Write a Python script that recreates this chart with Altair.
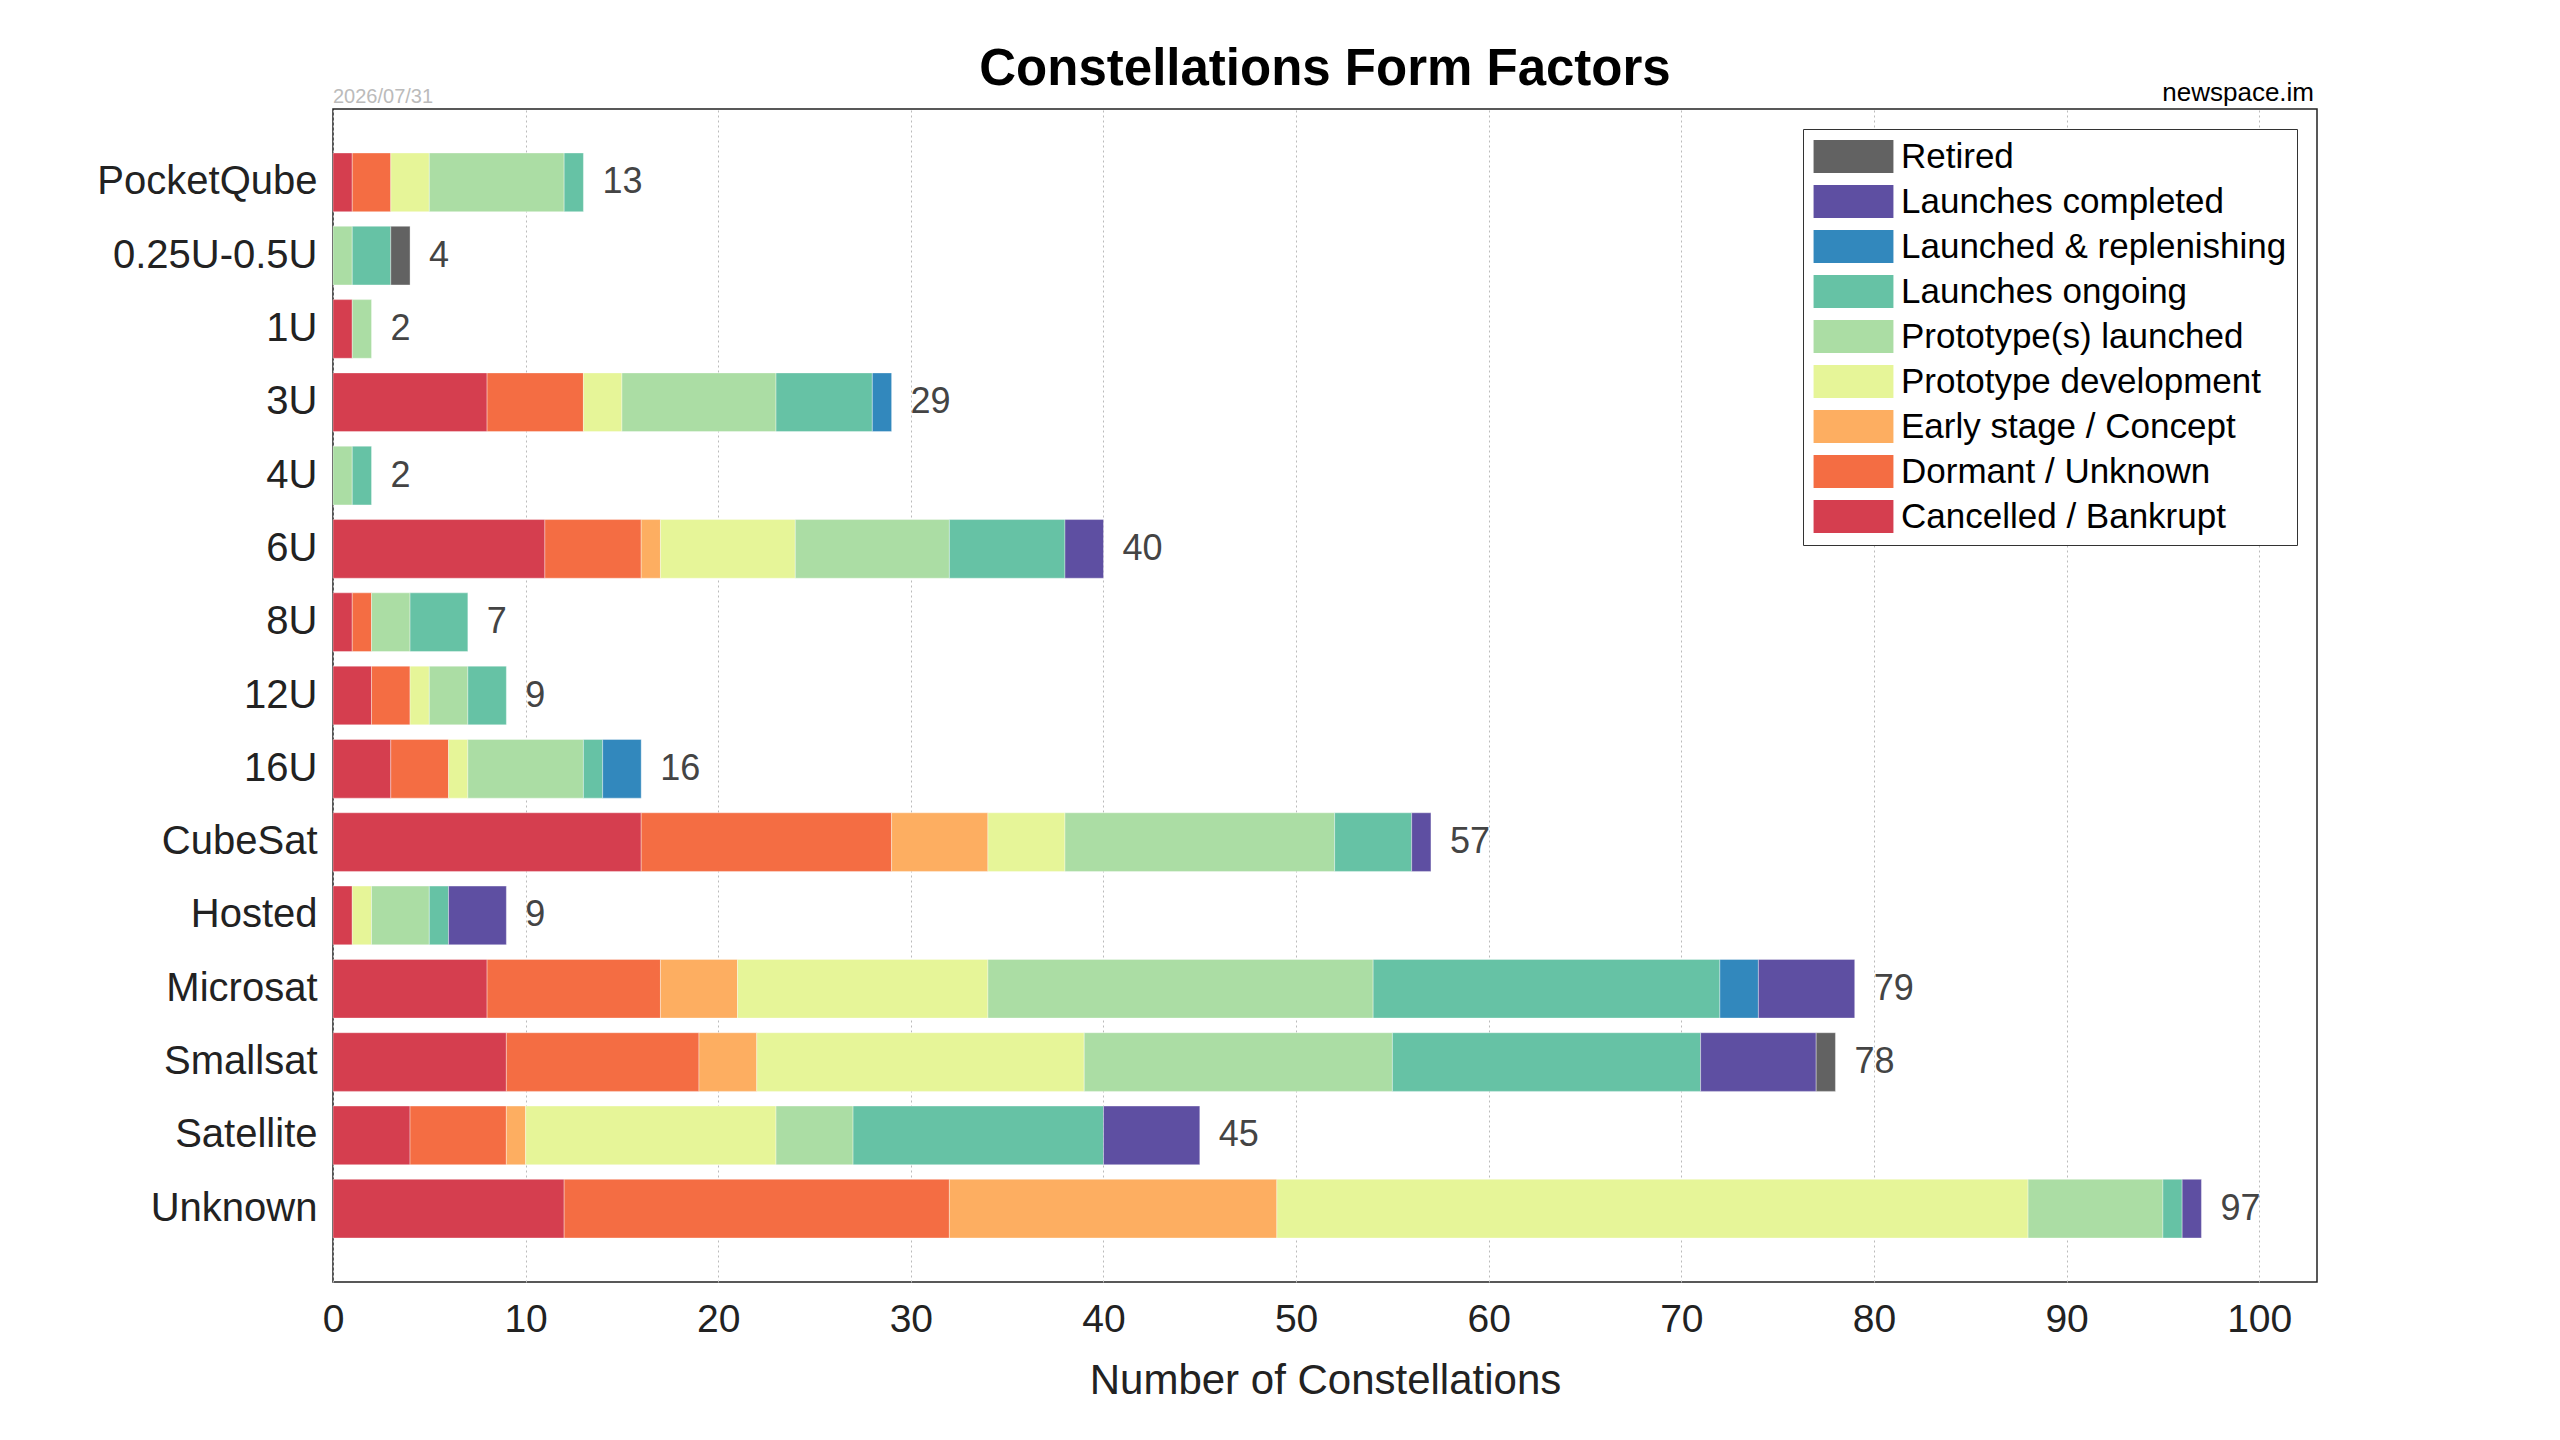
import altair as alt
import pandas as pd

categories = ["PocketQube", "0.25U-0.5U", "1U", "3U", "4U", "6U", "8U", "12U", "16U",
              "CubeSat", "Hosted", "Microsat", "Smallsat", "Satellite", "Unknown"]

statuses = ["Cancelled / Bankrupt", "Dormant / Unknown", "Early stage / Concept",
            "Prototype development", "Prototype(s) launched", "Launches ongoing",
            "Launched & replenishing", "Launches completed", "Retired"]
colors = ["#d53e4f", "#f46d43", "#fdae61", "#e6f598", "#abdda4", "#66c2a5",
          "#3288bd", "#5e4fa2", "#626262"]

cancelled     = [1, 0, 1, 8, 0, 11, 1, 2, 3, 16, 1, 8, 9, 4, 12]
dormant       = [2, 0, 0, 5, 0, 5, 1, 2, 3, 13, 0, 9, 10, 5, 20]
early         = [0, 0, 0, 0, 0, 1, 0, 0, 0, 5, 0, 4, 3, 1, 17]
proto_dev     = [2, 0, 0, 2, 0, 7, 0, 1, 1, 4, 1, 13, 17, 13, 39]
proto_launch  = [7, 1, 1, 8, 1, 8, 2, 2, 6, 14, 3, 20, 16, 4, 7]
ongoing       = [1, 2, 0, 5, 1, 6, 3, 2, 1, 4, 1, 18, 16, 13, 1]
replenishing  = [0, 0, 0, 1, 0, 0, 0, 0, 2, 0, 0, 2, 0, 0, 0]
completed     = [0, 0, 0, 0, 0, 2, 0, 0, 0, 1, 3, 5, 6, 5, 1]
retired       = [0, 1, 0, 0, 0, 0, 0, 0, 0, 0, 0, 0, 1, 0, 0]

series = [cancelled, dormant, early, proto_dev, proto_launch, ongoing,
          replenishing, completed, retired]

rows = []
for si, (st, vals) in enumerate(zip(statuses, series)):
    for c, v in zip(categories, vals):
        if v > 0:
            rows.append({"cat": c, "status": st, "value": v, "idx": si})
df = pd.DataFrame(rows)

totals = pd.DataFrame({"cat": categories,
                       "total": [sum(s[i] for s in series) for i in range(len(categories))]})

W, H = 1984, 1173
FONT = "Liberation Sans"

y_enc = alt.Y("cat:N", sort=categories,
              scale=alt.Scale(paddingInner=0.2, paddingOuter=0.6),
              axis=alt.Axis(title=None, ticks=False, domain=False, labelFontSize=40,
                            labelColor="#222", labelPadding=16, grid=False, labelFont=FONT,
                            labelLimit=600))

bars = alt.Chart(df).mark_bar(stroke="white", strokeWidth=1, strokeOpacity=0.35).encode(
    x=alt.X("value:Q", stack="zero",
            scale=alt.Scale(domain=[0, 103], nice=False),
            axis=alt.Axis(title="Number of Constellations", values=list(range(0, 101, 10)),
                          ticks=False, domain=False, labelFlush=False,
                          labelFontSize=39, labelColor="#222", labelPadding=18,
                          titleFontSize=42, titleFontWeight="normal", titleColor="#222",
                          titlePadding=21, labelFont=FONT, titleFont=FONT,
                          grid=True, gridDash=[2, 3], gridColor="#bbbbbb", gridWidth=1)),
    y=y_enc,
    color=alt.Color("status:N",
                    scale=alt.Scale(domain=statuses[::-1], range=colors[::-1]),
                    legend=alt.Legend(title=None, orient="top-right", offset=20,
                                      symbolType="M-2.42,-1H2.42V1H-2.42Z",
                                      symbolSize=1089, symbolStrokeWidth=0,
                                      symbolOffset=23, labelOffset=30,
                                      labelFontSize=35, labelColor="black", labelFont=FONT,
                                      rowPadding=9, padding=10,
                                      strokeColor="#333", fillColor="white",
                                      labelLimit=600)),
    order=alt.Order("idx:Q", sort="ascending"),
)

labels = alt.Chart(totals).mark_text(align="left", baseline="middle", dx=19,
                                     fontSize=36, color="#444", font=FONT).encode(
    x=alt.X("total:Q"),
    y=alt.Y("cat:N", sort=categories),
    text="total:Q",
)

title = alt.Chart(pd.DataFrame({"t": ["Constellations Form Factors"]})).mark_text(
    align="center", baseline="alphabetic", fontSize=51, fontWeight="bold",
    color="black", font=FONT).encode(text="t:N", x=alt.value(W / 2), y=alt.value(-24))

date = alt.Chart(pd.DataFrame({"t": ["2026/07/31"]})).mark_text(
    align="left", baseline="alphabetic", fontSize=20, color="#bbbbbb",
    font=FONT).encode(text="t:N", x=alt.value(0), y=alt.value(-6))

site = alt.Chart(pd.DataFrame({"t": ["newspace.im"]})).mark_text(
    align="right", baseline="alphabetic", fontSize=26, color="black",
    font=FONT).encode(text="t:N", x=alt.value(W - 3), y=alt.value(-8))

chart = alt.layer(bars, labels, title, date, site).properties(
    width=W, height=H,
    autosize=alt.AutoSizeParams(type="none"),
    padding={"left": 325, "top": 101, "right": 200, "bottom": 140},
).configure(font=FONT).configure_view(stroke="#222", strokeWidth=1.5)

chart.save("out.html", embed_options={"renderer": "svg", "actions": False})
